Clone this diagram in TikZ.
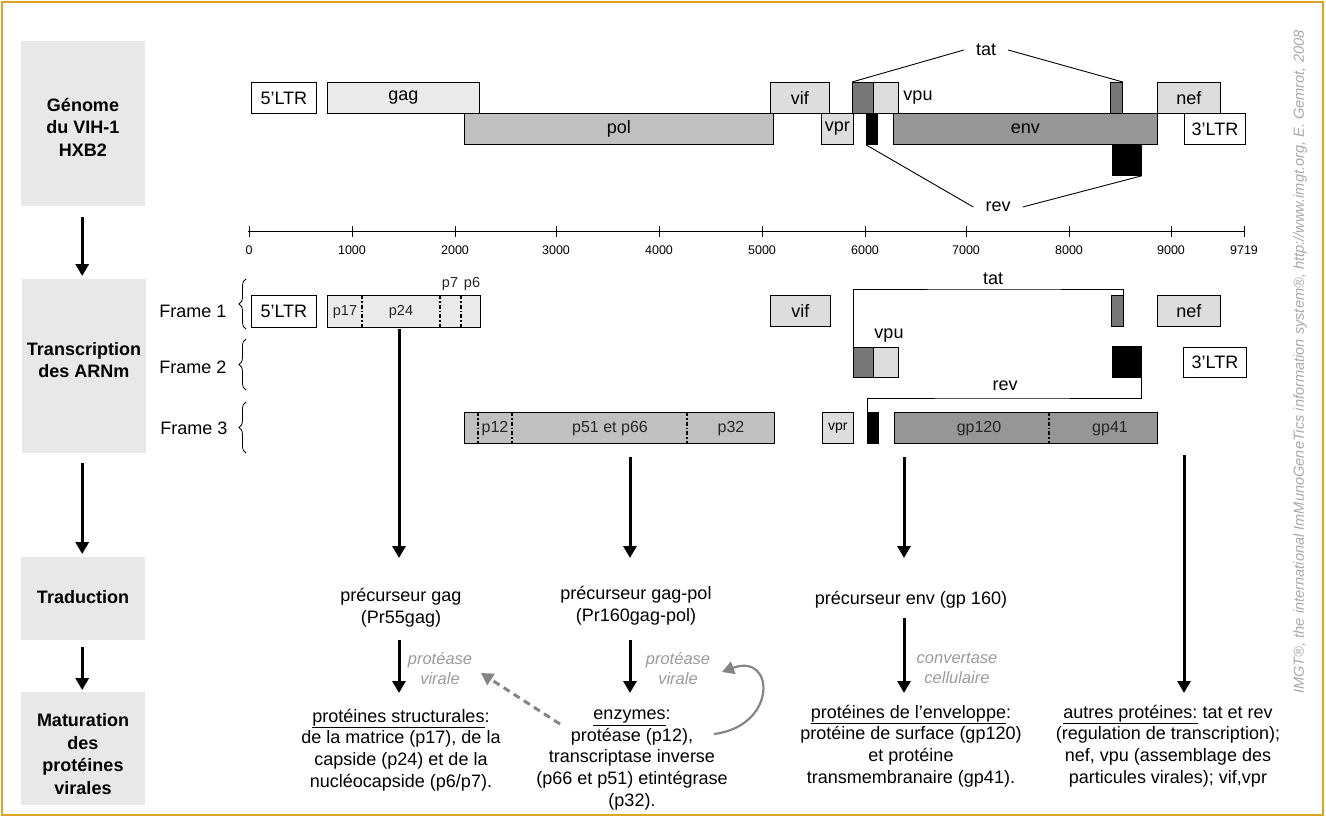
\documentclass[tikz,border=0pt]{standalone}
\usepackage{fontspec}
\setmainfont{Liberation Sans}
\usetikzlibrary{arrows.meta,decorations.pathreplacing,calc}
\definecolor{cside}{HTML}{E8E8E8}
\definecolor{cgag}{HTML}{EAEAEA}
\definecolor{clt}{HTML}{DDDDDD}
\definecolor{cpol}{HTML}{C0C0C0}
\definecolor{cenv}{HTML}{969696}
\definecolor{ctat}{HTML}{777777}
\definecolor{cgrey}{HTML}{9A9A9A}
\definecolor{carrow}{HTML}{858585}
\definecolor{cborder}{HTML}{DAA520}
\definecolor{cwm}{HTML}{A8A8A8}
\newcommand\genebox[7]{\node[gbox,#1,minimum width={(#5)-(#3)},minimum height={(#6)-(#4)}] (#2) at (#3,#4) {#7};}
\begin{document}
\begin{tikzpicture}[x=1pt,y=-1pt,
  gbox/.style={draw=black,line width=0.8pt,inner sep=0pt,anchor=north west,font=\fontsize{18}{21}\selectfont},
  side/.style={fill=cside,inner sep=0pt,anchor=north west},
  sidet/.style={inner sep=0pt,align=center,font=\bfseries\fontsize{18}{22.5}\selectfont},
  txt/.style={inner sep=0pt,align=center,font=\fontsize{18}{21.7}\selectfont},
  lbl/.style={inner sep=0pt,font=\fontsize{18}{21}\selectfont},
  sml/.style={inner sep=0pt,font=\fontsize{14.5}{16}\selectfont,text=black!85},
  mid/.style={inner sep=0pt,font=\fontsize{16}{18}\selectfont,text=black!85},
  grey/.style={inner sep=0pt,align=center,text=cgrey,font=\itshape\fontsize{16.5}{20}\selectfont},
  axl/.style={inner sep=0pt,font=\fontsize{12.5}{14}\selectfont},
  arr/.style={line width=3pt,-{Triangle[width=13pt,length=12pt]}},
  darr/.style={line width=3pt,draw=carrow,dash pattern=on 7pt off 5pt,-{Triangle[width=13pt,length=12pt]}},
  carr/.style={line width=2.2pt,draw=carrow,-{Triangle[width=13pt,length=12pt]}},
  divl/.style={line width=1.6pt,dash pattern=on 4pt off 2pt on 1.5pt off 2pt},
  thinl/.style={line width=0.9pt},
  bracel/.style={line width=0.8pt,decorate,decoration={brace,amplitude=7pt}}]
\useasboundingbox (0,0) rectangle (1326,817);
\draw[cborder,line width=2.2pt] (2,2) rectangle (1323,815);

% left column
\node[side,minimum width=124,minimum height=165] (sgen) at (21,41) {};
\node[side,minimum width=124,minimum height=174] (strans) at (22,279) {};
\node[side,minimum width=124,minimum height=83] (strad) at (21,557) {};
\node[side,minimum width=124,minimum height=113] (smat) at (21,692) {};
\node[sidet] (sgent) at (83,127) {Génome\\du VIH-1\\HXB2};
\node[sidet] (stranst) at (84,360) {Transcription\\des ARNm};
\node[sidet] (stradt) at (83,597) {Traduction};
\node[sidet] (smatt) at (83,754) {Maturation\\des\\protéines\\virales};
\draw[arr] ([xshift=-1pt,yshift=-11pt]sgen.south) -- ([xshift=-2pt,yshift=3pt]strans.north);
\draw[arr] ([xshift=-2pt,yshift=-10pt]strans.south) -- ([xshift=-1pt,yshift=3pt]strad.north);
\draw[arr] ([xshift=-1pt,yshift=-7pt]strad.south) -- ([xshift=-1pt,yshift=2pt]smat.north);

% genome
\genebox{fill=white}{g5ltr}{251}{82}{316}{113}{5’LTR}
\genebox{fill=cgag}{ggag}{327}{82}{479}{113}{gag}
\genebox{fill=cpol}{gpol}{464}{113}{773}{144}{pol}
\genebox{fill=clt}{gvif}{770}{82}{829}{113}{vif}
\genebox{fill=clt}{gvpr}{821}{113}{853}{144}{vpr}
\genebox{fill=ctat}{gtat1}{852}{82}{873}{113}{}
\genebox{fill=clt}{gvpu}{873}{82}{898}{113}{}
\node[lbl] (gvpul) at (918,98) {vpu};
\genebox{fill=black}{grev1}{866}{113}{877}{144}{}
\genebox{fill=cenv}{genv}{893}{113}{1157}{144}{env}
\genebox{fill=ctat}{gtat2}{1110}{82}{1122}{113}{}
\genebox{fill=black}{grev2}{1112}{144}{1141}{175}{}
\genebox{fill=clt}{gnef}{1157}{82}{1220}{113}{nef}
\genebox{fill=white}{g3ltr}{1184}{113}{1245}{144}{3’LTR}
\node[lbl,inner xsep=12pt] (gtat) at (986,50) {tat};
\node[lbl,inner xsep=12pt] (grev) at (998,207) {rev};
\draw[thinl] (gtat1.north west) -- (gtat.west);
\draw[thinl] (gtat.east) -- (gtat2.north east);
\draw[thinl] (grev1.south west) -- (grev.west);
\draw[thinl] (grev.east) -- (grev2.south east);

% axis
\coordinate (ax0) at (248,231);
\coordinate (ax1) at (1245,231);
\draw[line width=0.9pt] (ax0) -- (ax1);
\foreach \x/\l in {249/0,352/1000,455/2000,556/3000,659/4000,762/5000,865/6000,966/7000,1069/8000,1171/9000,1244/9719}{
  \draw[line width=0.9pt] (\x,226) -- (\x,237);
  \node[axl] (t\l) at (\x,250) {\l};
}

% frames labels and braces
\node[lbl] (fr1) at (193,311) {Frame 1};
\node[lbl] (fr2) at (193,367) {Frame 2};
\node[lbl] (fr3) at (194,428) {Frame 3};
\draw[bracel] (246,329) -- (246,279);
\draw[bracel] (246,390) -- (246,339);
\draw[bracel] (246,453) -- (246,402);

% frame 1
\genebox{fill=white}{f5ltr}{251}{295}{316}{327}{5’LTR}
\genebox{fill=cgag}{fgag}{327}{295}{480}{327}{}
\draw[divl] (362,295) -- (362,327);
\draw[divl] (440,295) -- (440,327);
\draw[divl] (461,295) -- (461,327);
\node[sml] (lp17) at (345,312) {p17};
\node[sml] (lp24) at (401,312) {p24};
\node[sml] (lp7) at (450,284) {p7};
\node[sml] (lp6) at (472,284) {p6};
\genebox{fill=clt}{fvif}{770}{295}{830}{326}{vif}
\genebox{fill=ctat}{ftat2}{1111}{295}{1123}{326}{}
\genebox{fill=clt}{fnef}{1157}{295}{1220}{326}{nef}

% frame 2
\genebox{fill=ctat}{ftat1}{853}{347}{873}{377}{}
\genebox{fill=clt}{fvpu}{873}{347}{898}{377}{}
\node[lbl] (fvpul) at (889,336) {vpu};
\genebox{fill=black}{frev2}{1112}{346}{1141}{377}{}
\genebox{fill=white}{f3ltr}{1183}{347}{1246}{377}{3’LTR}

% frame 3
\genebox{fill=cpol}{fpol}{464}{412}{774}{443}{}
\draw[divl] (478,412) -- (478,443);
\draw[divl] (512,412) -- (512,443);
\draw[divl] (687,412) -- (687,443);
\node[mid] (lp12) at (495,429) {p12};
\node[mid] (lp51) at (610,429) {p51 et p66};
\node[mid] (lp32) at (731,429) {p32};
\genebox{fill=clt}{fvpr}{822}{412}{853}{443}{\fontsize{14}{16}\selectfont vpr}
\genebox{fill=black}{frev1}{867}{412}{878}{443}{}
\genebox{fill=cenv}{fenv}{894}{412}{1157}{443}{}
\draw[divl] (1049,412) -- (1049,443);
\node[mid] (lgp120) at (979,429) {gp120};
\node[mid] (lgp41) at (1110,429) {gp41};

% tat and rev splicing brackets
\coordinate (ftattop) at (1000,289);
\coordinate (frevmid) at (1000,398);
\draw[thinl] (ftat1.south west) |- (ftattop) -| (ftat2.north east);
\draw[thinl] (frev2.south east) |- (frevmid) -| (frev1.north west);
\node[lbl] (ftat) at (993,279) {tat};
\node[lbl] (frev) at (1005,386) {rev};

% translation
\node[txt] (pgag) at (401,608) {précurseur gag\\(Pr55gag)};
\node[txt] (pgp) at (636,606) {précurseur gag-pol\\(Pr160gag-pol)};
\node[txt] (penv) at (911,600) {précurseur env (gp 160)};

\coordinate (a1s) at (399,329); \coordinate (a1e) at (399,558);
\coordinate (a2s) at (630,457); \coordinate (a2e) at (630,558);
\coordinate (a3s) at (904,457); \coordinate (a3e) at (904,558);
\coordinate (a4s) at (1184,455); \coordinate (a4e) at (1184,693);
\draw[arr] (a1s) -- (a1e);
\draw[arr] (a2s) -- (a2e);
\draw[arr] (a3s) -- (a3e);
\draw[arr] (a4s) -- (a4e);

% maturation
\coordinate (b1s) at (399,640); \coordinate (b1e) at (399,693);
\coordinate (b2s) at (630,640); \coordinate (b2e) at (630,693);
\coordinate (b3s) at (904,618); \coordinate (b3e) at (904,693);
\draw[arr] (b1s) -- (b1e);
\draw[arr] (b2s) -- (b2e);
\draw[arr] (b3s) -- (b3e);
\node[grey] (prot1) at (440,668) {protéase\\virale};
\node[grey] (prot2) at (678,668) {protéase\\virale};
\node[grey] (conv) at (957,668) {convertase\\cellulaire};

\node[txt] (mgag) at (401,750) {\underline{protéines structurales}:\\de la matrice (p17), de la\\capside (p24) et de la\\nucléocapside (p6/p7).};
\node[txt] (menz) at (632,760) {\underline{enzymes}:\\protéase (p12),\\transcriptase inverse\\(p66 et p51) etintégrase\\(p32).};
\node[txt] (menv) at (911,746) {\underline{protéines de l’enveloppe}:\\protéine de surface (gp120)\\et protéine\\transmembranaire (gp41).};
\node[txt] (maut) at (1168,746) {\underline{autres protéines:} tat et rev\\(regulation de transcription);\\nef, vpu (assemblage des\\particules virales); vif,vpr};

\coordinate (d1) at (560,724); \coordinate (d2) at (481,673);
\draw[darr] (d1) -- (d2);
\coordinate (c1) at (714,734); \coordinate (c2) at (722,672);
\draw[carr] (c1) .. controls (778,726) and (775,652) .. (c2);

% watermark
\node[inner sep=0pt,rotate=90,text=cwm,font=\itshape\fontsize{14.6}{16}\selectfont] (wmk) at (1300,362) {IMGT®, the international ImMunoGeneTics information system®, http://www.imgt.org, E. Gemrot, 2008};
\end{tikzpicture}
\end{document}
